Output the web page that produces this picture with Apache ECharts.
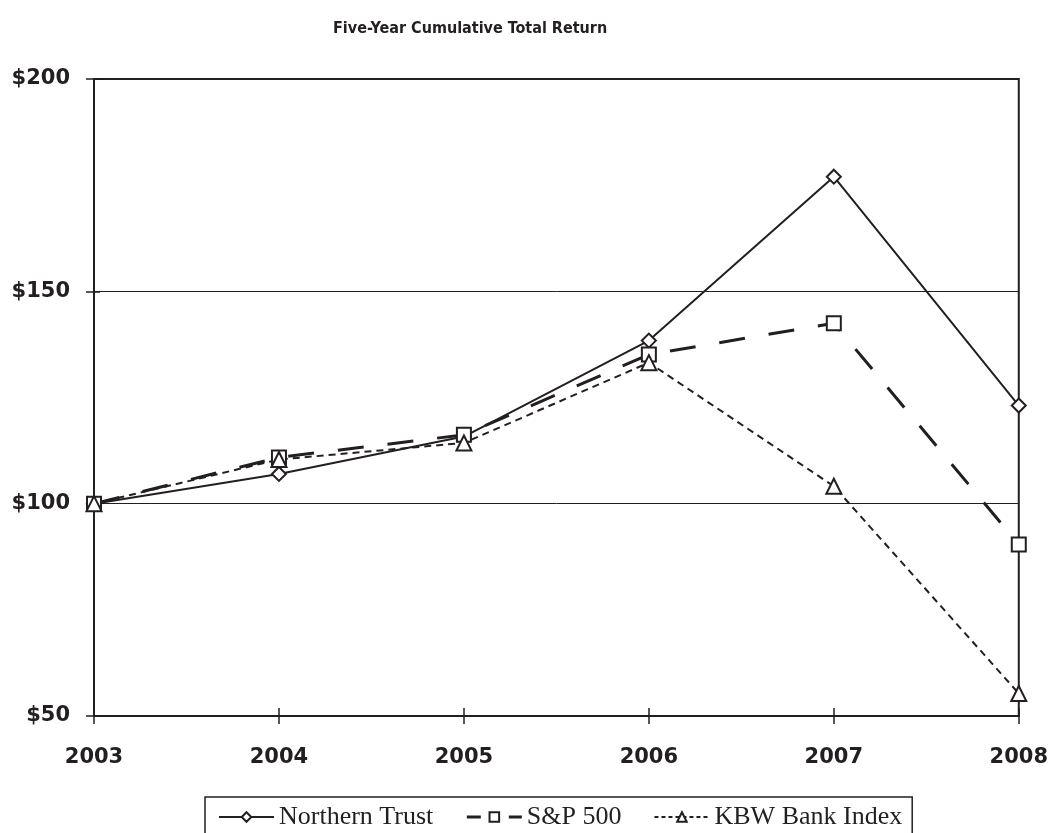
<!DOCTYPE html>
<html><head><meta charset="utf-8">
<script src="https://cdn.jsdelivr.net/npm/echarts@6/dist/echarts.min.js"></script>
<style>html,body{margin:0;padding:0;background:#fff}#c{width:1051px;height:833px}</style>
</head><body><div id="c"></div>
<script>
const categories = ['2003','2004','2005','2006','2007','2008'];
const northernTrust = [100, 107.0, 115.8, 138.4, 177.0, 123.1];
const sp500 = [100, 110.9, 116.2, 135.1, 142.5, 90.4];
const kbwBank = [100, 110.4, 114.3, 133.2, 104.1, 55.3];
const yTicks = [50, 100, 150, 200];

const chart = echarts.init(document.getElementById('c'));
const ink = '#231f20';
const axisFont = {fontFamily: 'DejaVu Sans', fontWeight: 'bold', fontSize: 21, color: ink};
function mk(name, data, symbol, size, lineType, width) {
  return {
    name, type: 'line', data, symbol, symbolSize: size,
    itemStyle: {color: '#fff', borderColor: ink, borderWidth: 2},
    lineStyle: {color: ink, width, type: lineType},
    emphasis: {disabled: true}, animation: false, z: 3
  };
}
chart.setOption({
  animation: false,
  title: {text: 'Five-Year Cumulative Total Return', left: 328, top: 16,
    textStyle: {fontFamily: 'DejaVu Sans Condensed', fontWeight: 'bold', fontSize: 16, color: ink}},
  grid: {left: 94, right: 32, top: 79, bottom: 117, show: true, borderColor: ink, borderWidth: 2, containLabel: false},
  legend: {
    left: 205, top: 797, itemGap: 32, itemWidth: 55, itemHeight: 12,
    borderColor: ink, borderWidth: 1.5, padding: [7, 10, 30, 13],
    textStyle: {fontFamily: 'Liberation Serif', fontSize: 26, color: ink},
    data: [
      {name: 'Northern Trust', lineStyle: {type: 'solid', width: 2}},
      {name: 'S&P 500', lineStyle: {type: [14, 28], width: 3}},
      {name: 'KBW Bank Index', lineStyle: {type: [4, 3], width: 2}}
    ]
  },
  xAxis: [{
    type: 'category', data: categories, boundaryGap: false,
    axisLine: {lineStyle: {color: ink, width: 2}},
    axisTick: {show: true, length: 8, lineStyle: {color: ink, width: 1.5}},
    axisLabel: Object.assign({margin: 31}, axisFont),
    splitLine: {show: false}
  }, {
    type: 'category', data: categories, boundaryGap: false, position: 'bottom',
    axisLine: {show: false},
    axisTick: {show: true, inside: true, length: 8, lineStyle: {color: ink, width: 1.5}},
    axisLabel: {show: false}, splitLine: {show: false}
  }],
  yAxis: [{
    type: 'value', min: 50, max: 200, interval: 50,
    axisLine: {show: true, lineStyle: {color: ink, width: 2}},
    axisTick: {show: true, length: 8, lineStyle: {color: ink, width: 1.5}},
    axisLabel: Object.assign({margin: 24, formatter: v => yTicks.includes(v) ? '$' + v : ''}, axisFont),
    splitLine: {show: true, lineStyle: {color: ink, width: 1}}
  }, {
    type: 'value', min: 50, max: 200, interval: 50, position: 'left',
    axisLine: {show: false},
    axisTick: {show: true, inside: true, length: 6, lineStyle: {color: ink, width: 1.5}},
    axisLabel: {show: false}, splitLine: {show: false}
  }],
  series: [
    mk('Northern Trust', northernTrust, 'diamond', 14, 'solid', 2),
    mk('S&P 500', sp500, 'rect', 14, [26, 24], 3),
    mk('KBW Bank Index', kbwBank, 'triangle', 15, [7, 5], 2)
  ]
});
</script></body></html>
